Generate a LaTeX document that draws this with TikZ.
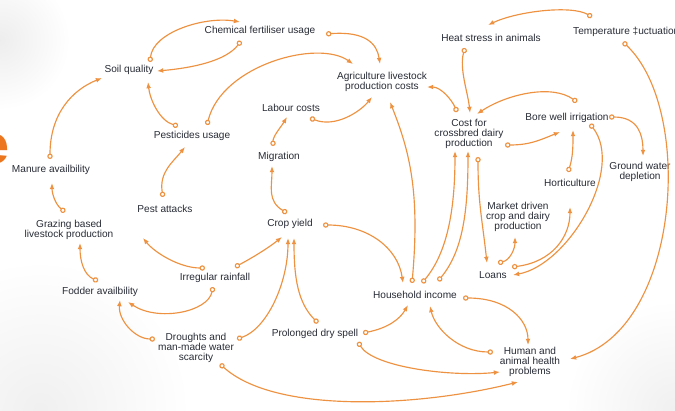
\documentclass[tikz,border=0pt]{standalone}
\usepackage{fontspec}
\setmainfont{Liberation Sans}
\usetikzlibrary{arrows.meta,calc}
\definecolor{linkorange}{RGB}{238,146,66}
\definecolor{deeporange}{RGB}{236,118,30}
\definecolor{labelgrey}{RGB}{40,44,54}
\tikzset{
  lbl/.style={text=labelgrey, font=\fontsize{10.1}{10.2}\selectfont, align=center, inner sep=0pt},
  link/.style={draw=linkorange, line width=1.15pt,
    {Circle[open,length=5.4pt,width=5.4pt]}-{Latex[length=6.2pt,width=4.8pt]}},
}
\begin{document}
\begin{tikzpicture}[x=1pt,y=-1pt]
\useasboundingbox (0,0) rectangle (675,410);
\clip (0,0) rectangle (675,410);
% soft paper background
\fill[white] (0,0) rectangle (675,410);
\shade[inner color=gray!14, outer color=white] (0,40) circle[radius=70];
\shade[inner color=gray!12, outer color=white] (40,410) circle[radius=150];
\shade[inner color=gray!12, outer color=white] (675,410) circle[radius=110];

% large initial letter at the left edge
\node[text=deeporange, font=\fontsize{54}{54}\selectfont\bfseries, anchor=base east, inner sep=0pt] (bigE) at (10,163) {e};

% factors
\node[lbl] (soil)    at (129,70)  {Soil quality};
\node[lbl] (chem)    at (260,31)  {Chemical fertiliser usage};
\node[lbl] (pest)    at (192,136) {Pesticides usage};
\node[lbl] (manure)  at (51,170)  {Manure availbility};
\node[lbl] (grazing) at (69,230)  {Grazing based\\livestock production};
\node[lbl] (fodder)  at (100,292) {Fodder availbility};
\node[lbl] (pattack) at (165,209) {Pest attacks};
\node[lbl] (rain)    at (215,278) {Irregular rainfall};
\node[lbl] (drought) at (196,348) {Droughts and\\man-made water\\scarcity};
\node[lbl] (crop)    at (290,224) {Crop yield};
\node[lbl] (dry)     at (315,334) {Prolonged dry spell};
\node[lbl] (migr)    at (279,157) {Migration};
\node[lbl] (labour)  at (291,108) {Labour costs};
\node[lbl] (agri)    at (382,82)  {Agriculture livestock\\production costs};
\node[lbl] (income)  at (415,295) {Household income};
\node[lbl] (health)  at (530,362) {Human and\\animal health\\problems};
\node[lbl] (cost)    at (469,134) {Cost for\\crossbred dairy\\production};
\node[lbl] (heat)    at (491,38)  {Heat stress in animals};
\node[lbl, anchor=west] (temp) at (573,32) {Temperature ‡uctuations};
\node[lbl] (bore)    at (567,118) {Bore well irrigation};
\node[lbl] (ground)  at (640,172) {Ground water\\depletion};
\node[lbl] (horti)   at (570,183) {Horticulture};
\node[lbl] (market)  at (518,217) {Market driven\\crop and dairy\\production};
\node[lbl] (loans)   at (493,275) {Loans};

% causal links: open circle at the cause, arrow at the effect
\draw[link] ($(soil)+(21,-8)$) .. controls +(3,-30) and +(-35,-6) .. ($(chem)+(-20,-9)$);
\draw[link] ($(chem)+(-19,10)$) .. controls +(-15,20) and +(35,-3) .. ($(soil)+(28,1)$);
\draw[link] ($(pest)+(-14,-10)$) .. controls +(-18,-5) and +(2,18) .. ($(soil)+(19,12)$);
\draw[link] ($(manure)+(-1,-11)$) .. controls +(0,-45) and +(-30,12) .. ($(soil)+(-27,8)$);
\draw[link] ($(grazing)+(-4,-18)$) .. controls +(-10,-8) and +(0,10) .. ($(manure)+(1,13)$);
\draw[link] ($(fodder)+(-2,-11)$) .. controls +(-14,-6) and +(0,18) .. ($(grazing)+(11,13)$);
\draw[link] ($(pattack)+(-2,-12)$) .. controls +(-4,-25) and +(-12,15) .. ($(pest)+(-7,11)$);
\draw[link] ($(rain)+(-10,-10)$) .. controls +(-25,0) and +(12,15) .. ($(pattack)+(-22,29)$);
\draw[link] ($(rain)+(20,-11)$) .. controls +(15,-8) and +(-15,12) .. ($(crop)+(-8,13)$);
\draw[link] ($(rain)+(-2,9)$) .. controls +(-5,25) and +(30,20) .. ($(fodder)+(28,10)$);
\draw[link] ($(drought)+(-41,-9)$) .. controls +(-20,0) and +(-2,20) .. ($(fodder)+(20,8)$);
\draw[link] ($(drought)+(41,-9)$) .. controls +(30,-10) and +(0,45) .. ($(crop)+(-2,14)$);
\draw[link] ($(dry)+(3,-11)$) .. controls +(-20,-20) and +(0,40) .. ($(crop)+(4,14)$);
\draw[link] ($(crop)+(-3,-11)$) .. controls +(-20,-12) and +(0,20) .. ($(migr)+(-7,9)$);
\draw[link] ($(migr)+(-6,-11)$) .. controls +(0,-10) and +(-6,10) .. ($(labour)+(-4,9)$);
\draw[link] ($(labour)+(19,10)$) .. controls +(25,10) and +(-12,15) .. ($(agri)+(-10,15)$);
\draw[link] ($(pest)+(15,-11)$) .. controls +(15,-60) and +(-35,-25) .. ($(agri)+(-29,-18)$);
\draw[link] ($(chem)+(66,3)$) .. controls +(40,-3) and +(-3,-20) .. ($(agri)+(-2,-18)$);
\draw[link] ($(income)+(-3,-12)$) .. controls +(8,-90) and +(20,50) .. ($(agri)+(8,20)$);
\draw[link] ($(income)+(7,-12)$) .. controls +(25,-30) and +(0,60) .. ($(cost)+(-14,17)$);
\draw[link] ($(income)+(23,-14)$) .. controls +(25,-30) and +(0,60) .. ($(cost)+(-1,17)$);
\draw[link] ($(cost)+(9,23)$) .. controls +(0,45) and +(-5,-45) .. ($(loans)+(-6,-12)$);
\draw[link] ($(loans)+(5,-12)$) .. controls +(12,-3) and +(0,12) .. ($(market)+(-3,20)$);
\draw[link] ($(loans)+(19,-8)$) .. controls +(40,-5) and +(0,30) .. ($(horti)+(0,24)$);
\draw[link] ($(bore)+(23,6)$) .. controls +(35,45) and +(55,-10) .. ($(loans)+(20,0)$);
\draw[link] ($(bore)+(42,-1)$) .. controls +(30,0) and +(0,-20) .. ($(ground)+(3,-16)$);
\draw[link] ($(horti)+(-2,-11)$) .. controls +(5,-15) and +(0,15) .. ($(bore)+(6,12)$);
\draw[link] ($(cost)+(36,11)$) .. controls +(25,0) and +(-20,8) .. ($(bore)+(-7,14)$);
\draw[link] ($(bore)+(10,-16)$) .. controls +(-25,-18) and +(30,-20) .. ($(cost)+(8,-20)$);
\draw[link] ($(heat)+(-26,10)$) .. controls +(-6,20) and +(-2,-20) .. ($(cost)+(1,-21)$);
\draw[link] ($(temp.west)+(19,-15)$) .. controls +(-20,-12) and +(30,-14) .. ($(heat)+(-3,-13)$);
\draw[link] ($(temp.west)+(50,10)$) .. controls +(72,68) and +(110,-29) .. ($(health)+(40,-3)$);
\draw[link] ($(cost)+(-12,-22)$) .. controls +(-5,-12) and +(14,0) .. ($(agri)+(45,5)$);
\draw[link] ($(crop)+(33,1)$) .. controls +(45,0) and +(-5,-35) .. ($(income)+(-12,-12)$);
\draw[link] ($(dry)+(48,-1)$) .. controls +(25,-5) and +(-8,14) .. ($(income)+(-7,10)$);
\draw[link] ($(dry)+(43,8)$) .. controls +(15,25) and +(-50,5) .. ($(health)+(-30,10)$);
\draw[link] ($(drought)+(24,16)$) .. controls +(55,50) and +(-100,25) .. ($(health)+(-12,20)$);
\draw[link] ($(income)+(48,3)$) .. controls +(45,0) and +(0,-25) .. ($(health)+(-2,-17)$);
\draw[link] ($(health)+(-37,-10)$) .. controls +(-35,0) and +(5,22) .. ($(income)+(15,11)$);
\end{tikzpicture}
\end{document}
